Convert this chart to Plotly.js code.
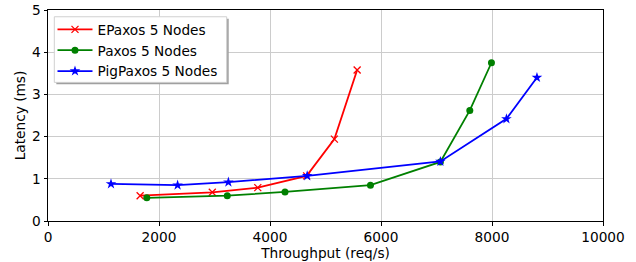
<!DOCTYPE html>
<html><head><meta charset="utf-8">
<script src="https://cdn.plot.ly/plotly-3.0.1.min.js"></script>
<style>body{margin:0;background:#fff}#c{width:636px;height:262px}</style>
</head><body><div id="c"></div>
<script>
const epaxosX = [1660, 2960, 3780, 4660, 5160, 5570];
const epaxosY = [0.60, 0.68, 0.79, 1.07, 1.94, 3.58];
const paxosX = [1780, 3230, 4270, 5810, 7070, 7600, 7990];
const paxosY = [0.55, 0.60, 0.69, 0.85, 1.40, 2.62, 3.75];
const pigX = [1135, 2335, 3250, 4670, 7070, 8260, 8810];
const pigY = [0.88, 0.85, 0.92, 1.07, 1.41, 2.42, 3.40];
const names = ["EPaxos 5 Nodes", "Paxos 5 Nodes", "PigPaxos 5 Nodes"];
const xTicks = [0, 2000, 4000, 6000, 8000, 10000];
const xTickText = ["0", "2000", "4000", "6000", "8000", "10000"];
const yTicks = [0, 1, 2, 3, 4, 5];

const F = "DejaVu Sans";
const fs = 13.7;
const traces = [
  {x: epaxosX, y: epaxosY, name: names[0], mode: "lines+markers", legendgroup: "a",
   line: {color: "#ff0000", width: 1.8}, marker: {symbol: "x-thin", size: 7, color: "#ff0000", line: {color: "#ff0000", width: 1.3}}},
  {x: paxosX, y: paxosY, name: names[1], mode: "lines+markers", legendgroup: "b",
   line: {color: "#008000", width: 1.8}, marker: {symbol: "circle", size: 7, color: "#008000"}},
  {x: pigX, y: pigY, name: names[2], mode: "lines+markers", legendgroup: "c",
   line: {color: "#0000ff", width: 1.8}, marker: {symbol: "star", size: 8, color: "#0000ff"}}
];
const layout = {
  width: 636, height: 262,
  margin: {l: 48, r: 33, t: 10, b: 41},
  paper_bgcolor: "#fff", plot_bgcolor: "#fff",
  font: {family: F, size: fs, color: "#000"},
  showlegend: true,
  legend: {x: 0.0081, y: 0.981, xanchor: "left", yanchor: "top",
    bgcolor: "rgba(0,0,0,0)", borderwidth: 0,
    font: {family: F, size: fs, color: "#000"}, tracegroupgap: 0,
    itemwidth: 35},
  shapes: [
    {type: "rect", xref: "paper", yref: "paper",
     x0: 0.0150, x1: 0.3256, y0: 0.648, y1: 0.959,
     fillcolor: "#a0a0a0", line: {width: 0}, layer: "above"},
    {type: "rect", xref: "paper", yref: "paper",
     x0: 0.01135, x1: 0.322, y0: 0.657, y1: 0.968,
     fillcolor: "#ffffff", line: {color: "#d0d0d0", width: 1}, layer: "above"}
  ],
  xaxis: {range: [0, 10000], tickvals: xTicks, ticktext: xTickText,
    showgrid: true, gridcolor: "#cccccc", gridwidth: 1, zeroline: false,
    showline: true, linecolor: "#000", linewidth: 1, mirror: true,
    ticks: "outside", ticklen: 3.5, tickcolor: "#000",
    tickfont: {family: F, size: fs},
    title: {text: "Throughput (req/s)", font: {family: F, size: fs}, standoff: 1}},
  yaxis: {range: [0, 5], tickvals: yTicks,
    showgrid: true, gridcolor: "#cccccc", gridwidth: 1, zeroline: false,
    showline: true, linecolor: "#000", linewidth: 1, mirror: true,
    ticks: "outside", ticklen: 3.5, tickcolor: "#000",
    tickfont: {family: F, size: fs},
    title: {text: "Latency (ms)", font: {family: F, size: fs}, standoff: 3}}
};
Plotly.newPlot("c", traces, layout, {displayModeBar: false, staticPlot: true});
</script></body></html>
